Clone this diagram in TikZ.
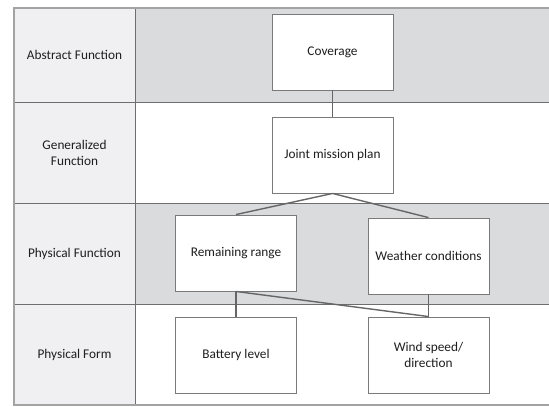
\documentclass[tikz,border=0pt]{standalone}
\usepackage{fontspec}
\setmainfont{Carlito}
\definecolor{band}{HTML}{DADBDD}
\definecolor{labfill}{HTML}{F0F0F2}
\definecolor{divline}{HTML}{6E6E6E}
\definecolor{outline}{HTML}{A3A3A3}
\definecolor{boxline}{HTML}{7A7A7A}
\definecolor{conn}{HTML}{666666}
\definecolor{txt}{HTML}{1E1E1E}
\begin{document}
\begin{tikzpicture}[x=1pt,y=-1pt,
  lbl/.style={align=center,font=\fontsize{13.3}{16}\selectfont,text=txt},
  fbox/.style={draw=boxline,line width=0.9pt,fill=white,minimum width=121pt,minimum height=76pt,align=center,font=\fontsize{13.3}{16}\selectfont,text=txt,inner sep=0pt},
  link/.style={draw=conn,line width=1.4pt}]
\useasboundingbox (0,0) rectangle (549,407);
% bands
\fill[band] (14,8) rectangle (549,102);
\fill[band] (14,203) rectangle (549,304);
\fill[labfill] (14,8) rectangle (135,405);
% dividers
\draw[divline,line width=1pt] (14,102) -- (549,102);
\draw[divline,line width=1pt] (14,203) -- (549,203);
\draw[divline,line width=1pt] (14,304) -- (549,304);
\draw[divline,line width=1pt] (135,8) -- (135,405);
% outer border
\draw[outline,line width=1.2pt] (549,8) -- (14,8) -- (14,405) -- (549,405);
% labels
\node[lbl] (l1) at (74.5,55) {Abstract Function};
\node[lbl] (l2) at (74.5,153) {Generalized\\Function};
\node[lbl] (l3) at (74.5,254) {Physical Function};
\node[lbl] (l4) at (74.5,355) {Physical Form};
% boxes
\node[fbox] (cov) at (332.5,52) {Coverage};
\node[fbox] (jmp) at (332.5,155) {Joint mission plan};
\node[fbox] (rem) at (236,253) {Remaining range};
\node[fbox] (wea) at (428.5,256) {Weather conditions};
\node[fbox] (bat) at (236,355) {Battery level};
\node[fbox] (wind) at (428.5,355) {Wind speed/\\direction};
% connectors
\draw[link] (cov.south) -- (jmp.north);
\draw[link] (jmp.south) -- (rem.north);
\draw[link] (jmp.south) -- (wea.north);
\draw[link] (rem.south) -- (bat.north);
\draw[link] (rem.south) -- (wind.north);
\draw[link] (wea.south) -- (wind.north);
\end{tikzpicture}
\end{document}
